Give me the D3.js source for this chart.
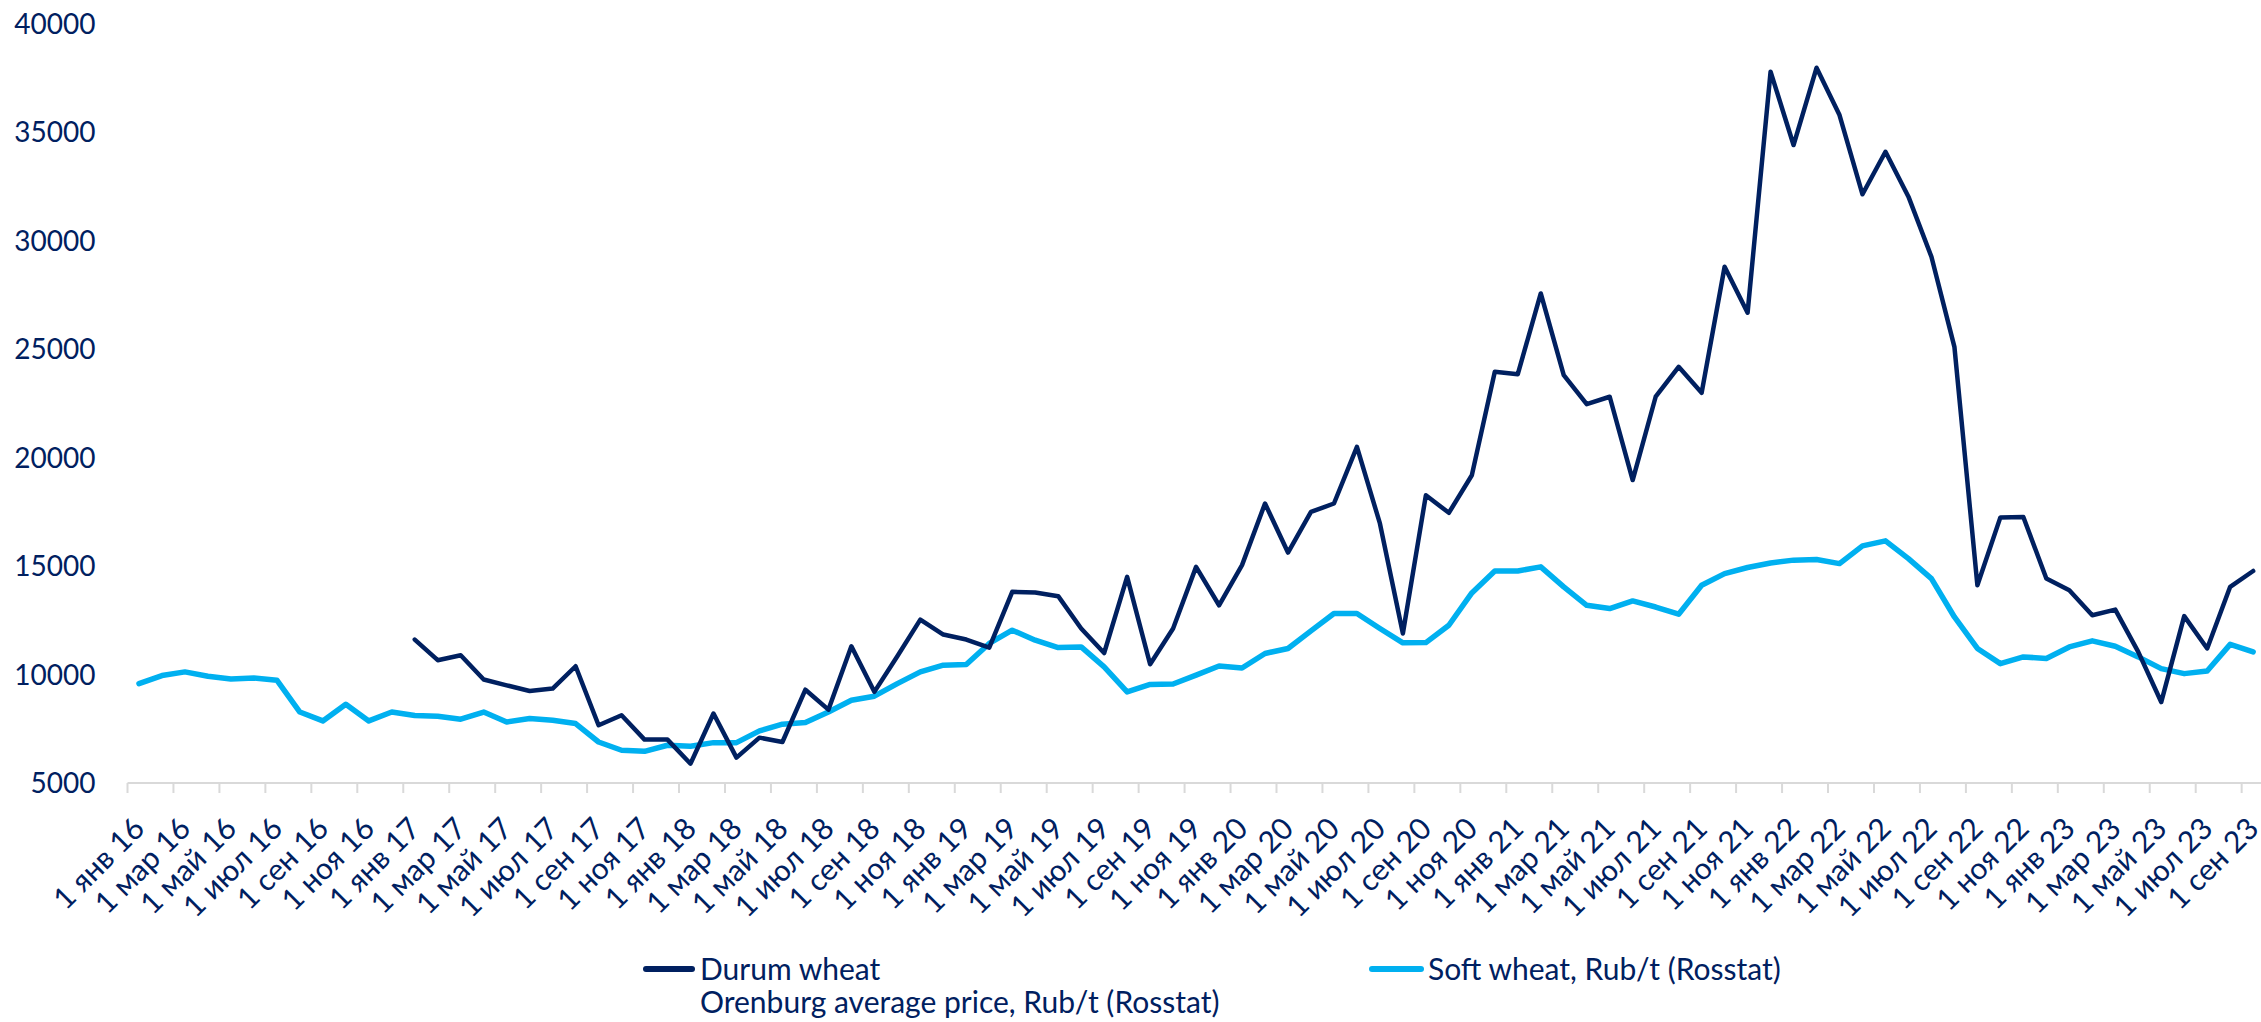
<!DOCTYPE html>
<html>
<head>
<meta charset="utf-8">
<script src="https://cdn.jsdelivr.net/npm/d3@7"></script>
<style>
  body { margin: 0; background: #fff; }
  text { font-family: Lato, "Noto Sans", sans-serif; fill: #002060; }
</style>
</head>
<body>
<script>
// month names for the category labels
var monthNames = ["янв", "фев", "мар", "апр", "май", "июн", "июл", "авг", "сен", "окт", "ноя", "дек"];
var years = [16, 17, 18, 19, 20, 21, 22, 23];
var monthCount = 93; // Jan 16 .. Sep 23

// y axis tick values
var yTicks = [5000, 10000, 15000, 20000, 25000, 30000, 35000, 40000];

// Soft wheat, Rub/t (Rosstat)
var softWheat = [
  9580, 9950, 10120, 9920, 9790, 9840, 9740, 8270, 7860, 8630, 7860, 8270,
  8110, 8080, 7940, 8270, 7810, 7970, 7890, 7740, 6890, 6510, 6460, 6740,
  6690, 6860, 6860, 7400, 7710, 7790, 8270, 8810, 9000, 9580, 10120, 10430,
  10460, 11430, 12040, 11580, 11240, 11270, 10350, 9200, 9540, 9560, 9970, 10390,
  10300, 10970, 11200, 12010, 12810, 12810, 12120, 11460, 11470, 12270, 13760, 14770,
  14770, 14960, 14040, 13190, 13040, 13390, 13110, 12780, 14110, 14650, 14930, 15140,
  15270, 15300, 15110, 15930, 16160, 15340, 14420, 12650, 11200, 10500, 10810, 10740,
  11270, 11550, 11300, 10810, 10270, 10040, 10160, 11390, 11040
];

// Durum wheat, Orenburg average price, Rub/t (Rosstat)
var durumWheat = [
  null, null, null, null, null, null, null, null, null, null, null, null,
  11610, 10660, 10890, 9770, 9500, 9240, 9350, 10380, 7660, 8120, 7000, 7000,
  5890, 8200, 6170, 7090, 6890, 9300, 8380, 11300, 9200, 10840, 12530, 11840,
  11610, 11240, 13810, 13780, 13610, 12120, 10990, 14500, 10470, 12120, 14960, 13190,
  15040, 17880, 15620, 17490, 17880, 20490, 16960, 11890, 18260, 17450, 19180, 23950,
  23840, 27560, 23800, 22460, 22800, 18960, 22800, 24180, 22980, 28790, 26670, 37780,
  34400, 37960, 35780, 32130, 34090, 32020, 29250, 25100, 14110, 17240, 17260, 14420,
  13880, 12730, 12990, 11040, 8730, 12690, 11200, 14040, 14770
];

var seriesNames = ["Durum wheat", "Orenburg average price, Rub/t (Rosstat)", "Soft wheat, Rub/t (Rosstat)"];

// build the category labels
var categories = [];
for (var i = 0; i < monthCount; i++) {
  categories.push("1 " + monthNames[i % 12] + " " + years[Math.floor(i / 12)]);
}

var width = 2261, height = 1022;
var plotLeft = 127.5, plotBottom = 783, plotTop = 23.5;
var step = 22.98;

var svg = d3.select("body").append("svg")
  .attr("width", width)
  .attr("height", height);

// x: one band per month
var x = d3.scaleBand()
  .domain(d3.range(monthCount))
  .range([plotLeft, plotLeft + step * monthCount])
  .padding(0);

var y = d3.scaleLinear()
  .domain([5000, 40000])
  .range([plotBottom, plotTop]);

// y labels
var yAxis = svg.append("g")
  .attr("transform", "translate(" + plotLeft + ",0)")
  .call(d3.axisLeft(y).tickValues(yTicks).tickSize(0).tickPadding(32).tickFormat(d3.format("d")));
yAxis.select(".domain").remove();
yAxis.selectAll("text")
  .style("font-size", "28px")
  .attr("dy", "0.35em")
  .attr("fill", "#002060");

// x baseline and ticks (every 2 months, at band edges)
var tickIdx = d3.range(0, monthCount, 2);
svg.append("line")
  .attr("x1", plotLeft).attr("x2", width)
  .attr("y1", plotBottom).attr("y2", plotBottom)
  .attr("stroke", "#d9d9d9").attr("stroke-width", 2);
svg.selectAll(".xtick").data(tickIdx).enter().append("line")
  .attr("class", "xtick")
  .attr("x1", d => x(d)).attr("x2", d => x(d))
  .attr("y1", plotBottom).attr("y2", plotBottom + 10)
  .attr("stroke", "#d9d9d9").attr("stroke-width", 2);

// rotated month labels
svg.selectAll(".xlabel").data(tickIdx).enter().append("text")
  .attr("class", "xlabel")
  .attr("transform", d => "translate(" + (x(d) + x.bandwidth() / 2) + "," + (plotBottom + 40) + ") rotate(-45)")
  .attr("text-anchor", "end")
  .attr("dy", "0.35em")
  .style("font-size", "30px")
  .text(d => categories[d]);

var line = d3.line()
  .defined(d => d.v !== null)
  .x(d => x(d.i) + x.bandwidth() / 2)
  .y(d => y(d.v));

svg.append("path")
  .datum(softWheat.map((v, i) => ({ i: i, v: v })))
  .attr("fill", "none")
  .attr("stroke", "#00b0f0")
  .attr("stroke-width", 5.5)
  .attr("stroke-linejoin", "round")
  .attr("stroke-linecap", "round")
  .attr("d", line);

svg.append("path")
  .datum(durumWheat.map((v, i) => ({ i: i, v: v })))
  .attr("fill", "none")
  .attr("stroke", "#002060")
  .attr("stroke-width", 4.5)
  .attr("stroke-linejoin", "round")
  .attr("stroke-linecap", "round")
  .attr("d", line);

// legend
var legend = svg.append("g");
legend.append("line")
  .attr("x1", 646).attr("x2", 692).attr("y1", 969).attr("y2", 969)
  .attr("stroke", "#002060").attr("stroke-width", 6).attr("stroke-linecap", "round");
legend.append("text").attr("x", 700).attr("y", 980).style("font-size", "30px").text(seriesNames[0]);
legend.append("text").attr("x", 700).attr("y", 1013).style("font-size", "30px").text(seriesNames[1]);
legend.append("line")
  .attr("x1", 1372).attr("x2", 1421).attr("y1", 969).attr("y2", 969)
  .attr("stroke", "#00b0f0").attr("stroke-width", 6).attr("stroke-linecap", "round");
legend.append("text").attr("x", 1428).attr("y", 980).style("font-size", "30px").text(seriesNames[2]);
</script>
</body>
</html>
